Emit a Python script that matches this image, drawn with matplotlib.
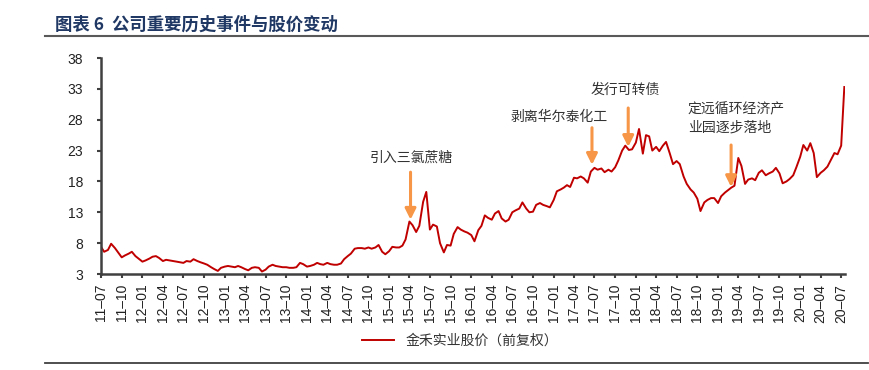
import pandas as pd
import matplotlib
matplotlib.use("Agg")
import matplotlib.pyplot as plt
import matplotlib.dates as mdates
from matplotlib.lines import Line2D

plt.rcParams["font.family"] = ["Liberation Sans", "Noto Sans CJK SC"]

# ── Data: semi-monthly close (前复权) ─────────────────────────────────────────
START = "2011-07-01"
PRICE = [
    # 2011 H2
    7.4, 6.6, 6.9, 7.9, 7.2, 6.5, 5.7, 6.0, 6.3, 6.6, 5.9, 5.5,
    # 2012
    5.0, 5.2, 5.5, 5.8, 5.9, 5.6, 5.1, 5.3, 5.2, 5.1, 5.0, 4.9,
    4.8, 5.1, 5.0, 5.4, 5.1, 4.9, 4.7, 4.5, 4.1, 3.8, 3.5, 4.0,
    # 2013
    4.2, 4.3, 4.2, 4.1, 4.3, 4.1, 3.8, 3.6, 4.0, 4.1, 4.0, 3.4,
    3.7, 4.2, 4.5, 4.3, 4.2, 4.1, 4.1, 4.0, 4.0, 4.1, 4.8, 4.6,
    # 2014
    4.2, 4.3, 4.5, 4.8, 4.6, 4.5, 4.8, 4.6, 4.5, 4.5, 4.7, 5.4,
    5.9, 6.3, 7.1, 7.2, 7.2, 7.1, 7.3, 7.1, 7.3, 7.7, 6.6, 6.2,
    # 2015
    6.7, 7.4, 7.3, 7.3, 7.6, 8.6, 11.5, 10.9, 9.8, 10.8, 14.7, 16.3,
    10.2, 11.0, 10.7, 8.0, 6.5, 7.7, 7.6, 9.5, 10.6, 10.2, 9.9, 9.7,
    # 2016
    9.3, 8.3, 10.1, 10.8, 12.5, 12.1, 11.8, 12.8, 13.2, 12.0, 11.5, 11.8,
    13.0, 13.3, 13.6, 14.6, 13.6, 13.0, 13.1, 14.2, 14.5, 14.2, 14.0, 13.8,
    # 2017
    15.0, 16.4, 16.7, 17.0, 17.4, 17.1, 18.6, 18.5, 18.8, 18.5, 17.8, 19.6,
    20.2, 19.9, 20.1, 19.5, 19.9, 19.6, 20.3, 21.4, 23.0, 23.8, 23.1, 23.2,
    # 2018
    24.3, 26.5, 22.5, 25.5, 25.3, 23.0, 23.6, 22.9, 23.8, 24.4, 22.5, 20.8,
    21.3, 20.8, 18.8, 17.6, 16.7, 16.2, 15.2, 13.2, 14.6, 15.0, 15.3, 15.3,
    # 2019
    14.5, 15.6, 16.2, 16.6, 17.0, 17.3, 21.8, 20.5, 17.6, 18.3, 18.5, 18.2,
    19.4, 19.8, 19.0, 19.3, 19.6, 20.2, 19.3, 17.7, 18.0, 18.4, 19.0, 20.3,
    # 2020
    22.0, 23.9, 23.0, 24.2, 22.6, 18.7, 19.4, 19.8, 20.4, 21.4, 22.6, 22.4,
    23.8, 33.3,
]
dates = pd.date_range(START, periods=len(PRICE), freq="SMS")

# ── Events ───────────────────────────────────────────────────────────────────
EVENT_TEXT  = ["引入三氯蔗糖", "剥离华尔泰化工", "发行可转债", "定远循环经济产\n业园逐步落地"]
EVENT_TXT_X = ["2015-04-08", "2017-01-27", "2017-11-15", "2018-08-20"]
EVENT_TXT_Y = [21.8, 28.4, 32.8, 28.3]
EVENT_HA    = ["center", "center", "center", "left"]
ARROW_X     = ["2015-04-06", "2017-06-20", "2017-11-28", "2019-02-28"]
ARROW_TAIL  = [19.5, 26.7, 29.9, 23.9]
ARROW_TIP   = [11.8, 20.7, 23.6, 17.1]

LINE_COLOR  = "#C00000"
ARROW_COLOR = "#F79646"
AXIS_COLOR  = "#404040"
CJK = ["Noto Sans CJK SC", "DejaVu Sans"]

fig = plt.figure(figsize=(8.7, 3.7), dpi=100)
ax = fig.add_axes([101 / 870, 1 - 274 / 370, 744 / 870, 216 / 370])

ax.plot(dates, PRICE, color=LINE_COLOR, lw=1.4, label="金禾实业股价（前复权）")

ax.set_ylim(3, 38)
ax.set_yticks(range(3, 39, 5))
ax.set_xlim(pd.Timestamp("2011-07-01"), pd.Timestamp("2020-07-18"))
ax.xaxis.set_major_locator(mdates.MonthLocator(bymonth=[1, 4, 7, 10]))
ax.xaxis.set_major_formatter(mdates.DateFormatter("%y\u2013%m"))
plt.setp(ax.get_xticklabels(), rotation=90)

for s in ["top", "right"]:
    ax.spines[s].set_visible(False)
for s in ["left", "bottom"]:
    ax.spines[s].set_color(AXIS_COLOR)
    ax.spines[s].set_linewidth(1.8)
ax.tick_params(axis="y", direction="out", length=3, width=1.5, color=AXIS_COLOR,
               labelsize=10, labelcolor="#222222", pad=10)
ax.tick_params(axis="x", direction="out", length=3, width=1.5, color=AXIS_COLOR,
               labelsize=10, labelcolor="#222222", pad=4)

# event arrows + labels
for txt, tx, ty, ha, axx, tail, tip in zip(EVENT_TEXT, EVENT_TXT_X, EVENT_TXT_Y,
                                           EVENT_HA, ARROW_X, ARROW_TAIL, ARROW_TIP):
    ax.annotate("", xy=(pd.Timestamp(axx), tip), xytext=(pd.Timestamp(axx), tail),
                arrowprops=dict(arrowstyle="-|>", color=ARROW_COLOR, lw=2.2,
                                mutation_scale=16, shrinkA=0, shrinkB=0))
    ax.text(pd.Timestamp(tx), ty, txt, ha=ha, va="center", fontsize=10,
            color="#333333", family=CJK, linespacing=1.5)

# title and rules
fig.text(55 / 870, 1 - 25 / 370, "图表 6  公司重要历史事件与股价变动", fontsize=12.5,
         fontweight="bold", color="#1F3864", family=CJK, va="center")
fig.add_artist(Line2D([45 / 870, 868 / 870], [1 - 36 / 370] * 2, color="#595959", lw=1.5))
fig.add_artist(Line2D([45 / 870, 868 / 870], [1 - 363 / 370] * 2, color="#404040", lw=1.3))

fig.legend(loc="center", bbox_to_anchor=(460 / 870, 1 - 341 / 370), frameon=False,
           handlelength=2.3, prop={"family": CJK, "size": 10})
for t in fig.legends[0].get_texts():
    t.set_color("#333333")

fig.savefig("out.png", dpi=100)
